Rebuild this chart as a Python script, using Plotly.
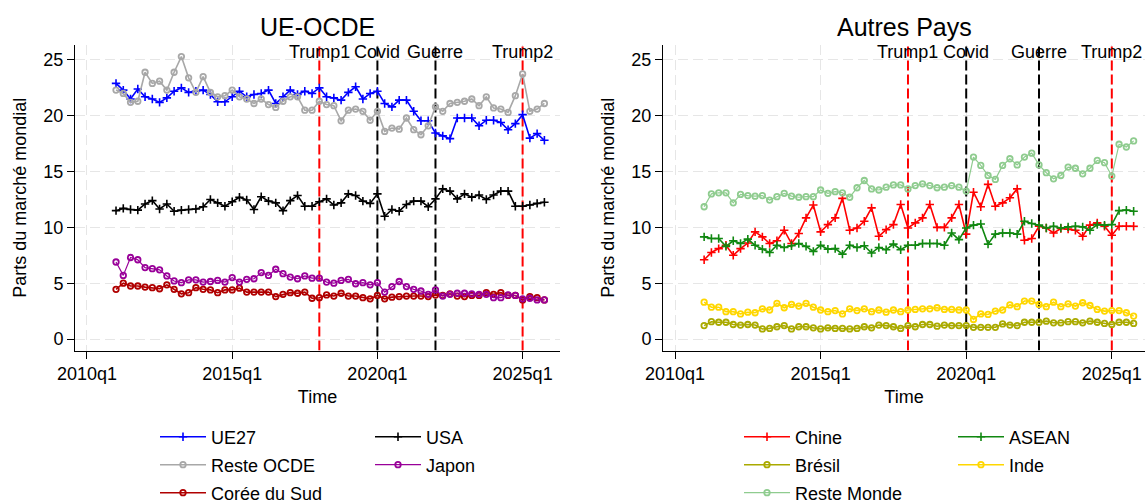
import plotly.graph_objects as go

W, H = 1145, 503

# ---------------- data ----------------
periods = [f"{y}q{q}" for y in range(2011, 2026) for q in range(1, 5)]  # 2011q1 .. 2025q4

tick_labels = ["2010q1", "2015q1", "2020q1", "2025q1"]
y_ticks = [0, 5, 10, 15, 20, 25]

ue27 = [22.9, 22.3, 21.5, 22.4, 21.7, 21.5, 21.2, 21.6, 22.2, 22.5, 22.1, 22.2, 22.3, 21.9, 21.25,
        21.25, 21.7, 22.2, 21.7, 21.9, 22.0, 22.3, 21.1, 21.7, 22.3, 21.9, 22.2, 22.0, 22.5, 21.7,
        21.6, 21.4, 22.1, 22.6, 21.5, 22.0, 22.2, 21.1, 20.8, 21.4, 21.4, 20.4, 19.55, 19.55, 18.45,
        18.2, 17.95, 19.8, 19.8, 19.8, 19.1, 19.6, 19.6, 19.4, 18.75, 19.3, 20.1, 18.0, 18.4, 17.8]
reste_ocde = [22.3, 22.0, 21.2, 21.3, 23.9, 22.9, 23.1, 22.3, 23.9, 25.3, 23.4, 22.1, 23.5, 22.1, 21.7,
              21.8, 22.3, 21.7, 21.5, 21.1, 21.5, 21.0, 20.75, 21.3, 21.7, 21.7, 20.5, 20.5, 21.3, 21.0,
              20.9, 19.55, 20.5, 20.6, 20.4, 19.6, 20.4, 18.6, 18.9, 18.8, 19.8, 18.75, 18.3, 19.1, 20.8,
              20.4, 21.1, 21.2, 21.3, 21.5, 20.9, 21.7, 20.7, 20.6, 20.3, 21.8, 23.75, 20.4, 20.6, 21.1]
coree = [4.45, 5.0, 4.75, 4.75, 4.65, 4.6, 4.5, 4.85, 4.45, 4.05, 4.15, 4.6, 4.45, 4.4, 4.15,
         4.4, 4.4, 4.55, 4.2, 4.2, 4.2, 4.2, 3.8, 4.0, 4.15, 4.1, 4.2, 3.65, 3.7, 3.95,
         3.85, 4.1, 3.85, 3.85, 3.7, 3.6, 3.9, 3.6, 3.75, 3.8, 3.85, 3.85, 3.85, 3.8, 3.95,
         3.9, 4.05, 3.85, 3.8, 3.9, 3.9, 4.15, 4.0, 4.15, 3.9, 3.9, 3.5, 3.8, 3.7, 3.5]
usa = [11.5, 11.7, 11.6, 11.55, 12.1, 12.4, 11.65, 12.1, 11.45, 11.55, 11.6, 11.65, 11.85, 12.5, 12.2,
       11.9, 12.3, 12.7, 12.45, 11.6, 12.75, 12.35, 12.2, 11.5, 12.4, 12.85, 11.9, 11.9, 12.3, 12.55,
       12.0, 12.2, 13.0, 12.85, 12.35, 12.15, 13.0, 11.0, 11.6, 11.45, 12.05, 12.35, 12.35, 11.85, 12.55,
       13.45, 13.25, 12.55, 13.0, 12.7, 12.9, 12.5, 12.9, 13.25, 13.25, 11.9, 11.9, 12.0, 12.15, 12.25]
japon = [6.9, 5.7, 7.3, 7.1, 6.4, 6.3, 6.2, 5.65, 5.2, 5.05, 5.3, 5.3, 5.1, 5.15, 5.25,
         5.1, 5.5, 5.1, 5.35, 5.4, 5.95, 5.7, 6.25, 5.85, 5.55, 5.4, 5.65, 5.45, 5.45, 5.1,
         5.0, 5.25, 5.35, 4.95, 5.05, 4.85, 5.05, 4.2, 4.7, 5.15, 4.7, 4.45, 4.3, 4.0, 4.4,
         3.85, 4.0, 4.1, 4.1, 4.05, 4.0, 4.0, 3.7, 3.7, 3.95, 3.9, 3.6, 3.65, 3.5, 3.5]

chine = [7.1, 7.75, 8.1, 8.4, 7.5, 8.1, 8.6, 9.6, 9.15, 8.55, 8.8, 9.75, 8.55, 9.45, 10.85,
         12.0, 9.6, 10.25, 10.85, 12.6, 9.75, 9.95, 10.55, 11.75, 9.2, 9.8, 10.25, 12.05, 9.95, 10.4,
         10.85, 12.05, 10.0, 10.0, 10.85, 12.05, 9.4, 13.15, 11.85, 13.85, 11.9, 12.2, 12.65, 13.45, 8.85,
         9.0, 10.1, 9.95, 9.5, 9.9, 9.85, 9.75, 9.2, 10.2, 10.4, 10.1, 9.3, 10.1, 10.1, 10.1]
bresil = [1.2, 1.55, 1.5, 1.5, 1.3, 1.25, 1.3, 1.25, 0.9, 0.95, 1.1, 1.2, 0.9, 1.1, 1.1,
          1.0, 0.9, 1.0, 0.95, 0.95, 0.9, 0.95, 1.1, 1.0, 1.25, 1.2, 1.1, 0.95, 1.2, 1.1,
          1.3, 1.3, 1.15, 1.25, 1.2, 1.2, 1.2, 1.05, 1.05, 1.05, 1.05, 1.35, 1.25, 1.2, 1.5,
          1.5, 1.5, 1.6, 1.45, 1.45, 1.55, 1.55, 1.45, 1.6, 1.5, 1.4, 1.3, 1.5, 1.5, 1.4]
reste_monde = [11.85, 13.0, 13.1, 13.1, 12.2, 12.95, 12.85, 12.8, 12.85, 12.45, 12.75, 13.05, 12.8, 12.7, 12.75,
               12.75, 13.35, 13.05, 13.2, 13.1, 12.7, 13.55, 14.2, 13.45, 13.35, 13.6, 13.8, 13.8, 13.45, 13.75,
               13.9, 13.75, 13.55, 13.6, 13.75, 13.6, 13.25, 16.3, 15.55, 14.65, 14.3, 15.55, 16.15, 15.6, 16.3,
               16.65, 15.6, 14.9, 14.35, 14.65, 15.4, 15.3, 14.8, 15.3, 16.0, 15.8, 14.6, 17.45, 17.2, 17.75]
asean = [9.15, 9.0, 9.0, 8.3, 8.8, 8.55, 8.95, 8.4, 8.05, 7.75, 8.4, 8.2, 8.35, 8.55, 8.3,
         7.85, 8.4, 8.05, 8.1, 7.6, 8.4, 8.2, 8.35, 7.7, 8.2, 8.0, 8.5, 8.0, 8.4, 8.4,
         8.55, 8.55, 8.55, 8.4, 9.5, 8.9, 9.95, 10.2, 10.3, 8.5, 9.4, 9.5, 9.5, 9.4, 10.55,
         10.35, 10.2, 9.95, 10.1, 9.95, 10.05, 10.1, 10.05, 9.75, 10.25, 10.2, 10.25, 11.5, 11.55, 11.45]
inde = [3.3, 2.85, 2.85, 2.45, 2.45, 2.25, 2.4, 2.35, 2.7, 2.6, 3.2, 2.8, 3.1, 2.95, 3.2,
        2.85, 2.6, 2.45, 2.55, 2.25, 2.7, 2.55, 2.7, 2.45, 2.6, 2.4, 2.6, 2.45, 2.6, 2.65,
        2.7, 2.7, 2.8, 2.65, 2.65, 2.6, 2.6, 1.75, 2.25, 2.2, 2.5, 2.6, 3.05, 2.9, 3.4,
        3.4, 3.1, 2.9, 3.3, 2.9, 3.15, 2.95, 3.25, 3.0, 2.65, 2.5, 2.55, 2.55, 2.35, 2.05]

events_left = {"Trump1": "2018q1", "Covid": "2020q1", "Guerre": "2022q1", "Trump2": "2025q1"}
events_right = {"Trump1": "2018q1", "Covid": "2020q1", "Guerre": "2022q3", "Trump2": "2025q1"}
event_colors = {"Trump1": "#ff0000", "Covid": "#000000", "Guerre": "#000000", "Trump2": "#ff0000"}


def qidx(p):
    y, q = p.split("q")
    return (int(y) - 2010) * 4 + int(q) - 1


x = [qidx(p) for p in periods]
tick_vals = [qidx(t) for t in tick_labels]

FONT = "Liberation Sans, Arial, Helvetica, sans-serif"
CROSS = "cross-thin"
CIRC = "circle-open"
Y_RANGE = [-1.03, 26.34]

# name, values, color, symbol, panel, legend pixel position (left, center y), line width
series = [
    ("UE27", ue27, "#0000ff", CROSS, 1, (155, 437), 1.6),
    ("Reste OCDE", reste_ocde, "#a8a8a8", CIRC, 1, (155, 465), 1.6),
    ("Corée du Sud", coree, "#b00000", CIRC, 1, (155, 493), 1.6),
    ("USA", usa, "#000000", CROSS, 1, (370, 437), 1.6),
    ("Japon", japon, "#990099", CIRC, 1, (370, 465), 1.2),
    ("Chine", chine, "#ff0000", CROSS, 2, (739, 437), 1.6),
    ("Brésil", bresil, "#aaaa00", CIRC, 2, (739, 465), 1.6),
    ("Reste Monde", reste_monde, "#8fcc8f", CIRC, 2, (739, 493), 1.2),
    ("ASEAN", asean, "#118811", CROSS, 2, (953, 437), 1.6),
    ("Inde", inde, "#ffd700", CIRC, 2, (953, 465), 1.6),
]

fig = go.Figure()

# event lines first (drawn above the grid, beneath the series)
annotations = []
for events, xa, ya in [(events_left, "x", "y"), (events_right, "x2", "y2")]:
    for lab, per in events.items():
        xv = qidx(per)
        fig.add_trace(go.Scatter(
            x=[xv, xv], y=Y_RANGE, mode="lines", showlegend=False, hoverinfo="skip",
            line=dict(color=event_colors[lab], width=2, dash="10px,4px"),
            xaxis=xa, yaxis=ya, cliponaxis=False,
        ))
        annotations.append(dict(text=lab, x=xv, xref=xa, y=1 - 52 / H, yref="paper",
                                xanchor="center", yanchor="middle", showarrow=False,
                                font=dict(family=FONT, size=18, color="#000000")))

layout_legends = {}
for k, (name, vals, col, sym, panel, (lx, ly), lw) in enumerate(series, start=1):
    key = "legend" if k == 1 else f"legend{k}"
    if sym == CROSS:
        marker = dict(symbol=sym, size=6, color=col, line=dict(color=col, width=1.6))
    else:
        marker = dict(symbol=sym, size=5.5, color=col, line=dict(color=col, width=1.8))
    fig.add_trace(go.Scatter(
        x=x, y=vals, name=name, mode="lines+markers",
        line=dict(color=col, width=lw), marker=marker,
        xaxis="x" if panel == 1 else "x2", yaxis="y" if panel == 1 else "y2",
        legend=key, showlegend=True,
    ))
    layout_legends[key] = dict(
        x=lx / W, y=1 - ly / H, xanchor="left", yanchor="middle",
        bgcolor="rgba(0,0,0,0)", borderwidth=0, itemwidth=46,
        font=dict(family=FONT, size=18, color="#000000"),
    )

Y0, Y1 = 1 - 350.5 / H, 1 - 45 / H
axis_common = dict(
    showline=True, linecolor="#000000", linewidth=1, mirror=False,
    ticks="outside", ticklen=7, tickcolor="#000000", tickwidth=1,
    showgrid=True, gridcolor="#e6e6e6", gridwidth=1.2, griddash="10px,5px",
    zeroline=False, tickfont=dict(family=FONT, size=18, color="#000000"),
)

fig.update_layout(
    width=W, height=H,
    margin=dict(l=0, r=0, t=0, b=0, autoexpand=False),
    paper_bgcolor="white", plot_bgcolor="white",
    font=dict(family=FONT, size=18, color="#000000"),
    xaxis=dict(domain=[75 / W, 560 / W], range=[-1.65, 65.15], tickvals=tick_vals, ticktext=tick_labels,
               anchor="y", ticklabelstandoff=0,
               title=dict(text="Time", standoff=7, font=dict(family=FONT, size=18)),
               automargin=False, **axis_common),
    yaxis=dict(domain=[Y0, Y1], range=Y_RANGE, tickvals=y_ticks, anchor="x",
               title=dict(text="Parts du marché mondial", standoff=12, font=dict(family=FONT, size=18)),
               automargin=False, **axis_common),
    xaxis2=dict(domain=[663 / W, 1.0], range=[-1.65, 64.56], tickvals=tick_vals, ticktext=tick_labels,
                anchor="y2", ticklabelstandoff=0,
                title=dict(text="Time", standoff=7, font=dict(family=FONT, size=18)),
                automargin=False, **axis_common),
    yaxis2=dict(domain=[Y0, Y1], range=Y_RANGE, tickvals=y_ticks, anchor="x2",
                title=dict(text="Parts du marché mondial", standoff=12, font=dict(family=FONT, size=18)),
                automargin=False, **axis_common),
    showlegend=True,
    **layout_legends,
)

annotations.append(dict(text="UE-OCDE", x=(75 + 560) / 2 / W, y=1 - 27 / H, xref="paper", yref="paper",
                        xanchor="center", yanchor="middle", showarrow=False,
                        font=dict(family=FONT, size=25, color="#000000")))
annotations.append(dict(text="Autres Pays", x=(663 + 1145) / 2 / W, y=1 - 27 / H, xref="paper", yref="paper",
                        xanchor="center", yanchor="middle", showarrow=False,
                        font=dict(family=FONT, size=25, color="#000000")))

fig.update_layout(annotations=annotations)
fig.write_html("out.html", config={"displayModeBar": False},
               post_script="document.body.style.margin='0px';document.body.style.overflow='hidden';")
